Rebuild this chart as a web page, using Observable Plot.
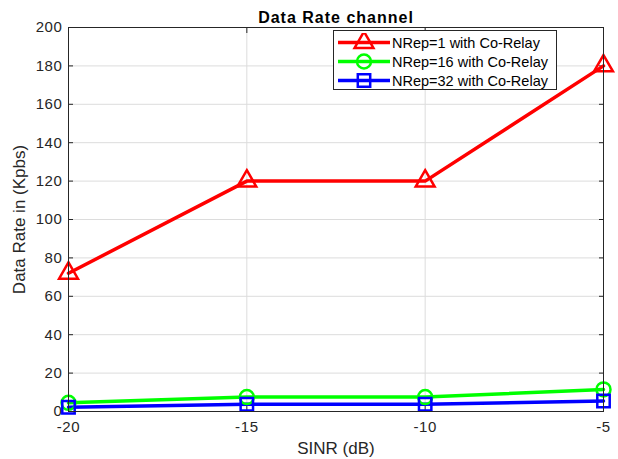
<!DOCTYPE html>
<html>
<head>
<meta charset="utf-8">
<script src="https://cdn.jsdelivr.net/npm/d3@7"></script>
<script src="https://cdn.jsdelivr.net/npm/@observablehq/plot@0.6"></script>
<style>
  html, body { margin: 0; padding: 0; background: #fff; }
  #wrap { position: relative; width: 618px; height: 459px; font-family: "Liberation Sans", Arial, sans-serif; }
  #legend { position: absolute; left: 333px; top: 30px; width: 224px; height: 60px; border: 1px solid #262626; background: #fff; box-sizing: border-box; padding-top: 2px; }
  .item { display: flex; align-items: center; height: 19px; font-size: 14.5px; color: #000; }
  .item svg { margin-left: 4px; margin-right: 2px; flex: none; }
  .ticklbl text { letter-spacing: 0.6px; }
  .axlbl text { letter-spacing: 0.9px; }
</style>
</head>
<body>
<div id="wrap"></div>
<script>
const sinr = [-20, -15, -10, -5];
const yTicks = [0, 20, 40, 60, 80, 100, 120, 140, 160, 180, 200];
const seriesNames = ["NRep=1 with Co-Relay", "NRep=16 with Co-Relay", "NRep=32 with Co-Relay"];
const nrep1 = [72, 120, 120, 180];
const nrep16 = [4.5, 7.5, 7.5, 11.5];
const nrep32 = [2.25, 3.75, 3.75, 5.5];
const colors = ["#ff0000", "#00ff00", "#0000ff"];
const symbols = ["triangle", "circle", "square"];

const values = [nrep1, nrep16, nrep32];
const data = [];
seriesNames.forEach((s, i) => sinr.forEach((x, j) => data.push({series: s, x, y: values[i][j]})));

const fmt = d => (d < 0 ? "-" + Math.abs(d) : String(d));

const chart = Plot.plot({
  width: 618,
  height: 459,
  marginLeft: 68,
  marginRight: 15,
  marginTop: 27,
  marginBottom: 48,
  style: {fontFamily: "'Liberation Sans', Arial, sans-serif", fontSize: "15px", background: "#fff", color: "#262626"},
  x: {domain: [-20, -5]},
  y: {domain: [0, 200]},
  color: {domain: seriesNames, range: colors},
  symbol: {domain: seriesNames, range: symbols},
  marks: [
    Plot.gridX(sinr, {stroke: "#dcdcdc", strokeOpacity: 1}),
    Plot.gridY(yTicks, {stroke: "#dcdcdc", strokeOpacity: 1}),
    Plot.axisX(sinr, {anchor: "bottom", tickSize: -5, tickPadding: 15, tickFormat: fmt, fontSize: 15, fill: "#262626", stroke: "#262626", className: "ticklbl", label: null}),
    Plot.axisX({anchor: "bottom", ticks: [], tickSize: 0, label: "SINR (dB)", labelAnchor: "center", labelArrow: "none", labelOffset: 42, fontSize: 17, fill: "#262626", className: "axlbl"}),
    Plot.axisX(sinr, {anchor: "top", tickSize: -5, tickFormat: () => "", label: null, stroke: "#262626"}),
    Plot.axisY(yTicks, {anchor: "left", tickSize: -5, tickPadding: 11, fontSize: 15, fill: "#262626", stroke: "#262626", className: "ticklbl", label: null}),
    Plot.axisY({anchor: "left", ticks: [], tickSize: 0, label: "Data Rate in (Kpbs)", labelAnchor: "center", labelArrow: "none", labelOffset: 56, fontSize: 17, fill: "#262626", className: "axlbl"}),
    Plot.axisY(yTicks, {anchor: "right", tickSize: -5, tickFormat: () => "", label: null, stroke: "#262626"}),
    Plot.line(data, {x: "x", y: "y", z: "series", stroke: "series", strokeWidth: 3.5}),
    Plot.dot(data, {x: "x", y: "y", stroke: "series", symbol: "series", r: 7, strokeWidth: 2.5, fill: "none"}),
    Plot.frame({stroke: "#262626", strokeWidth: 1}),
    Plot.text(["Data Rate channel"], {frameAnchor: "top", dy: -16, fontWeight: "bold", fontSize: 16, fill: "#000", className: "titl"})
  ]
});
const wrap = document.getElementById("wrap");
wrap.appendChild(chart);
d3.select(chart).selectAll(".titl text").style("letter-spacing", "1px");

const legend = document.createElement("div");
legend.id = "legend";
seriesNames.forEach((s, i) => {
  const item = document.createElement("div");
  item.className = "item";
  const ns = "http://www.w3.org/2000/svg";
  const svg = document.createElementNS(ns, "svg");
  svg.setAttribute("width", 52); svg.setAttribute("height", 19);
  const line = document.createElementNS(ns, "line");
  line.setAttribute("x1", 0); line.setAttribute("x2", 52); line.setAttribute("y1", 9.5); line.setAttribute("y2", 9.5);
  line.setAttribute("stroke", colors[i]); line.setAttribute("stroke-width", 3.5);
  svg.appendChild(line);
  const sym = document.createElementNS(ns, "path");
  const symType = [d3.symbolTriangle, d3.symbolCircle, d3.symbolSquare][i];
  sym.setAttribute("d", d3.symbol(symType, Math.PI * 49)());
  sym.setAttribute("transform", "translate(26,9.5)");
  sym.setAttribute("fill", "none"); sym.setAttribute("stroke", colors[i]); sym.setAttribute("stroke-width", 2.5);
  svg.appendChild(sym);
  item.appendChild(svg);
  const t = document.createElement("span");
  t.textContent = s;
  item.appendChild(t);
  legend.appendChild(item);
});
wrap.appendChild(legend);
</script>
</body>
</html>
